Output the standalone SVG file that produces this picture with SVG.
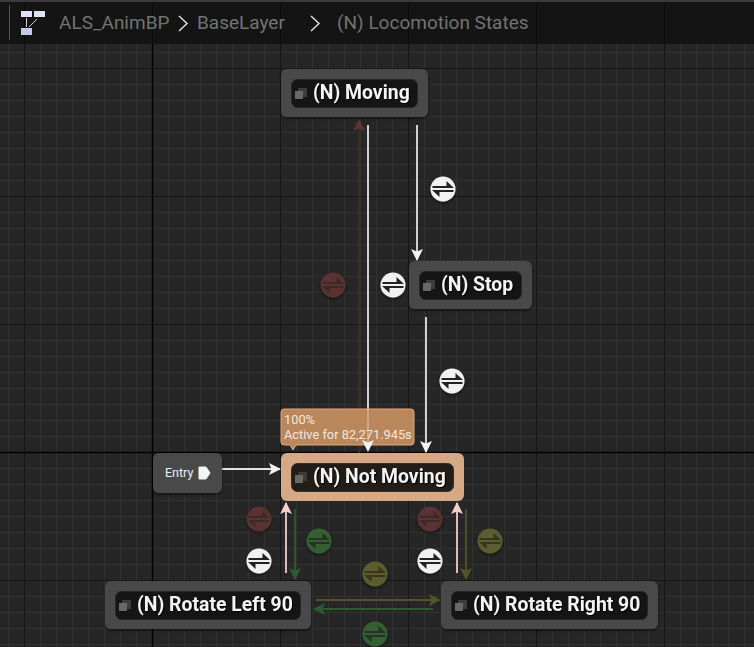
<svg xmlns="http://www.w3.org/2000/svg" width="754" height="647" viewBox="0 0 754 647">
<style>
text{font-family:Roboto,"Liberation Sans",sans-serif}
.node{fill:#484848}
.inner{fill:#151515;stroke:#262626;stroke-width:1}
.lbl{font-size:19.4px;font-weight:700;fill:#f4f4f4;filter:drop-shadow(1.5px 1.5px 0 #000)}
.crumb{font-size:19px;fill:#737373}
.minor{stroke:#323232;stroke-width:1}
.major{stroke:#161616;stroke-width:1}
.axis{stroke:#000;stroke-width:1.4}
.ic1{fill:#3c3c3c}.ic2{fill:#686868}
.w{stroke:#e4e4e4;fill:none;stroke-width:1.800}
.r{stroke:#4a2b2b;fill:none;stroke-width:1.500}
.p{stroke:#f0cccc;fill:none;stroke-width:1.800}
.g{stroke:#2f5a2f;fill:none;stroke-width:1.800}
.o{stroke:#545428;fill:none;stroke-width:1.800}
</style>
<defs>
<filter id="sh" x="-20%" y="-20%" width="140%" height="140%"><feDropShadow dx="0" dy="1.5" stdDeviation="1.5" flood-color="#000" flood-opacity="0.55"/></filter>
<marker id="aw" markerWidth="12" markerHeight="12" refX="11" refY="6" orient="auto" markerUnits="userSpaceOnUse"><path d="M0 0L12 6L0 12L2.5 6Z" fill="#f2f2f2"/></marker>
<marker id="ar" markerWidth="12" markerHeight="12" refX="11" refY="6" orient="auto" markerUnits="userSpaceOnUse"><path d="M0 0L12 6L0 12L2.5 6Z" fill="#5c3434"/></marker>
<marker id="ap" markerWidth="12" markerHeight="12" refX="11" refY="6" orient="auto" markerUnits="userSpaceOnUse"><path d="M0 0L12 6L0 12L2.5 6Z" fill="#f5cfcf"/></marker>
<marker id="ag" markerWidth="12" markerHeight="12" refX="11" refY="6" orient="auto" markerUnits="userSpaceOnUse"><path d="M0 0L12 6L0 12L2.5 6Z" fill="#2f5a2f"/></marker>
<marker id="ao" markerWidth="12" markerHeight="12" refX="11" refY="6" orient="auto" markerUnits="userSpaceOnUse"><path d="M0 0L12 6L0 12L2.5 6Z" fill="#545428"/></marker>
<pattern id="gm" width="16" height="16" patternUnits="userSpaceOnUse" x="8" y="4"><path d="M0.5 0V16M0 0.5H16" class="minor" fill="none"/></pattern>
<g id="icon"><rect x="-3" y="-5" width="9" height="9" class="ic1"/><rect x="-6" y="-2" width="8" height="8" class="ic2"/></g>
<path id="swap" d="M-10.500 -3H3.500V-8L11 -1H-10.500ZM10.500 3H-3.500V8L-11 1H10.500Z"/>
</defs>

<rect width="754" height="647" fill="#262626"/>
<rect width="754" height="647" fill="url(#gm)"/>
<path class="major" d="M24.500 0V647M280.500 0V647M408.500 0V647M536.500 0V647M664.500 0V647M0 68.500H754M0 196.500H754M0 324.500H754M0 580.500H754" fill="none"/>
<path class="axis" d="M152.500 0V647M0 452.500H754" fill="none"/>

<g id="connectors">
<path class="r" d="M359 453V120" marker-end="url(#ar)"/>
<path class="w" d="M368 125V420"/>
<path class="w" d="M417 125V260" marker-end="url(#aw)"/>
<path class="w" d="M426 317V452" marker-end="url(#aw)"/>
<path class="w" d="M222 469H280" marker-end="url(#aw)"/>
<path class="p" d="M286 573V503" marker-end="url(#ap)"/>
<path class="g" d="M295 509V579" marker-end="url(#ag)"/>
<path class="p" d="M457 573V503" marker-end="url(#ap)"/>
<path class="o" d="M466 509V579" marker-end="url(#ao)"/>
<path class="o" d="M316 600H440" marker-end="url(#ao)"/>
<path class="g" d="M433 609H314" marker-end="url(#ag)"/>
</g>

<g id="rule-moving-stop" transform="translate(443 189)"><circle r="12.500" fill="#f1f1f1" filter="url(#sh)"/><use href="#swap" fill="#222"/></g>
<g id="rule-stop-moving" transform="translate(393 285)"><circle r="12.500" fill="#f1f1f1" filter="url(#sh)"/><use href="#swap" fill="#222"/></g>
<g id="rule-moving-red" transform="translate(333 285)"><circle r="12.500" fill="#5a3030" filter="url(#sh)"/><use href="#swap" fill="#3a2a2a"/></g>
<g id="rule-stop-not" transform="translate(452 381)"><circle r="12.500" fill="#f1f1f1" filter="url(#sh)"/><use href="#swap" fill="#222"/></g>
<g id="rule-left-red" transform="translate(259 519)"><circle r="12.500" fill="#5a3030" filter="url(#sh)"/><use href="#swap" fill="#3a2a2a"/></g>
<g id="rule-left-green" transform="translate(319 541)"><circle r="12.500" fill="#355f33" filter="url(#sh)"/><use href="#swap" fill="#243324"/></g>
<g id="rule-left-white" transform="translate(259 561)"><circle r="12.500" fill="#f1f1f1" filter="url(#sh)"/><use href="#swap" fill="#222"/></g>
<g id="rule-right-red" transform="translate(430 519)"><circle r="12.500" fill="#5a3030" filter="url(#sh)"/><use href="#swap" fill="#3a2a2a"/></g>
<g id="rule-right-olive" transform="translate(490 541)"><circle r="12.500" fill="#5c5c2e" filter="url(#sh)"/><use href="#swap" fill="#363620"/></g>
<g id="rule-right-white" transform="translate(430 561)"><circle r="12.500" fill="#f1f1f1" filter="url(#sh)"/><use href="#swap" fill="#222"/></g>
<g id="rule-lr-olive" transform="translate(375 574)"><circle r="12.500" fill="#5c5c2e" filter="url(#sh)"/><use href="#swap" fill="#363620"/></g>
<g id="rule-rl-green" transform="translate(375 634)"><circle r="12.500" fill="#355f33" filter="url(#sh)"/><use href="#swap" fill="#243324"/></g>

<g id="node-moving">
<rect x="281" y="69" width="147" height="48" rx="6" class="node" filter="url(#sh)"/>
<rect x="291.500" y="79.500" width="126" height="28" rx="6" class="inner"/>
<use href="#icon" x="301" y="93"/>
<text x="313" y="99" class="lbl">(N) Moving</text>
</g>
<g id="node-stop">
<rect x="409" y="261" width="123" height="48" rx="6" class="node" filter="url(#sh)"/>
<rect x="419.500" y="271.500" width="102" height="28" rx="6" class="inner"/>
<use href="#icon" x="429" y="285"/>
<text x="441" y="291" class="lbl">(N) Stop</text>
</g>
<g id="tooltip">
<path d="M284 409H411Q414 409 414 412V442Q414 445 411 445H296L293 450L290 445H284Q281 445 281 442V412Q281 409 284 409Z" fill="#ba875c" stroke="#e0a878"/>
<text x="284" y="424" font-size="12.800" fill="#f3e7dc">100%</text>
<text x="284" y="439" font-size="12.800" fill="#f3e7dc">Active for 82,271.945s</text>
</g>
<g id="connector-over-tooltip">
<path d="M368 409V442" stroke="#e8d8c8" stroke-width="1.800" opacity="0.45" fill="none"/>
<path d="M368 452L362 440L368 442.500L374 440Z" fill="#f2f2f2"/>
</g>
<g id="node-not-moving">
<rect x="281" y="453" width="183" height="48" rx="6" fill="#d6a986"/>
<rect x="291.500" y="463.500" width="162" height="28" rx="6" fill="#241c16" stroke="#3a2e24"/>
<use href="#icon" x="301" y="477"/>
<text x="313" y="483" class="lbl">(N) Not Moving</text>
</g>
<g id="node-rotate-left">
<rect x="105" y="581" width="206" height="48" rx="6" class="node" filter="url(#sh)"/>
<rect x="115.500" y="591.500" width="185" height="28" rx="6" class="inner"/>
<use href="#icon" x="125" y="605"/>
<text x="137" y="611" class="lbl">(N) Rotate Left 90</text>
</g>
<g id="node-rotate-right">
<rect x="441" y="581" width="217" height="48" rx="6" class="node" filter="url(#sh)"/>
<rect x="451.500" y="591.500" width="196" height="28" rx="6" class="inner"/>
<use href="#icon" x="461" y="605"/>
<text x="473" y="611" class="lbl">(N) Rotate Right 90</text>
</g>
<g id="node-entry">
<rect x="153" y="453" width="69" height="40" rx="6" class="node" filter="url(#sh)"/>
<text x="165" y="477" font-size="12.500" fill="#eeeeee">Entry</text>
<path d="M199 467H206L210 473L206 479H199Z" fill="#f4f4f4" stroke="#f4f4f4" stroke-linejoin="round"/>
</g>

<g id="breadcrumb">
<rect width="754" height="44" fill="#141414"/>
<rect width="754" height="2" fill="#3a3a3a"/>
<path d="M9.500 5V40" stroke="#555"/>
<path d="M152.500 2V44M24.500 2V44M280.500 2V44M408.500 2V44M536.500 2V44M664.500 2V44" stroke="#0a0a0a"/>
<rect x="21" y="11" width="11" height="6" fill="#dfe3f5"/><rect x="34" y="11" width="11" height="6" fill="#dfe3f5"/><rect x="21" y="28" width="11" height="7" fill="#c4cbe8"/>
<path d="M26.500 18V27M37 19L29 27" stroke="#d0d0d8"/>
<text x="59" y="29" class="crumb">ALS_AnimBP</text>
<path d="M179 16L187 23.500L179 31" fill="none" stroke="#e4e4e4" stroke-width="1.400"/>
<text x="197" y="29" class="crumb">BaseLayer</text>
<path d="M311 16L319 23.500L311 31" fill="none" stroke="#e4e4e4" stroke-width="1.400"/>
<text x="337" y="29" class="crumb">(N) Locomotion States</text>
</g>
</svg>
